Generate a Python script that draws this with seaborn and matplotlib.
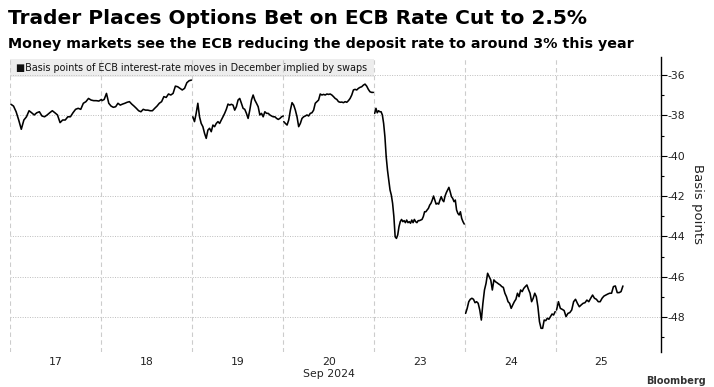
import numpy as np
import pandas as pd
import seaborn as sns
import matplotlib.pyplot as plt
from matplotlib.patches import Rectangle

# trading days shown on the x axis (Sep 2024)
days = ['17', '18', '19', '20', '23', '24', '25']
# fraction of each day covered by the quotes
session_end = [1.0, 0.99, 1.0, 0.99, 0.99, 0.99, 0.735]

# basis points of ECB moves in December implied by swaps
sep17 = [-37.45, -37.54, -37.82, -38.23, -38.69, -38.23, -38.07, -37.77, -37.87, -37.98,
         -37.87, -37.82, -38.03, -38.07, -37.98, -37.87, -37.77, -37.87, -37.98, -38.36,
         -38.23, -38.23, -38.07, -38.07, -37.87, -37.70, -37.65, -37.70, -37.40, -37.32,
         -37.16, -37.24, -37.27, -37.27, -37.29, -37.21]
sep18 = [-37.27, -37.21, -36.91, -37.40, -37.54, -37.60, -37.57, -37.40, -37.49, -37.44,
         -37.40, -37.35, -37.32, -37.44, -37.54, -37.65, -37.77, -37.82, -37.70, -37.74,
         -37.74, -37.77, -37.77, -37.65, -37.54, -37.40, -37.32, -37.07, -37.11, -36.94,
         -36.99, -36.91, -36.55, -36.58, -36.66, -36.74, -36.66, -36.38, -36.28, -36.25]
sep19 = [-38.07, -38.31, -37.90, -37.40, -38.07, -38.40, -38.56, -38.89, -39.14, -38.73,
         -38.64, -38.81, -38.48, -38.56, -38.40, -38.31, -38.40, -38.23, -38.07, -37.90,
         -37.70, -37.44, -37.49, -37.45, -37.49, -37.74, -37.57, -37.24, -37.16, -37.40,
         -37.65, -37.70, -37.90, -38.15, -37.74, -37.24, -36.99, -37.24, -37.40, -37.57,
         -37.98, -37.90, -38.07, -37.82, -37.90, -37.90, -37.98, -38.03, -38.07, -38.07,
         -38.15, -38.20, -38.15, -38.07, -38.03]
sep20 = [-38.31, -38.40, -38.48, -38.23, -37.74, -37.37, -37.49, -37.74, -38.07, -38.56,
         -38.40, -38.15, -38.07, -38.03, -37.98, -38.03, -37.90, -37.87, -37.74, -37.40,
         -37.32, -37.24, -36.94, -36.99, -36.96, -36.99, -36.94, -36.96, -36.94, -36.99,
         -37.07, -37.16, -37.21, -37.32, -37.35, -37.34, -37.37, -37.32, -37.35, -37.27,
         -37.16, -36.99, -36.74, -36.71, -36.74, -36.66, -36.61, -36.58, -36.50, -36.45,
         -36.55, -36.71, -36.83, -36.86, -36.86]
sep23 = [-37.90, -37.65, -37.87, -37.77, -37.82, -37.82, -37.98, -38.40, -39.06, -40.05,
         -40.71, -41.21, -41.70, -41.95, -42.36, -43.02, -44.02, -44.10, -43.93, -43.52,
         -43.27, -43.16, -43.27, -43.22, -43.32, -43.19, -43.32, -43.27, -43.35, -43.19,
         -43.32, -43.16, -43.27, -43.32, -43.22, -43.22, -43.19, -43.16, -43.02, -42.78,
         -42.78, -42.69, -42.61, -42.45, -42.36, -42.20, -42.00, -42.20, -42.40, -42.36,
         -42.40, -42.20, -42.03, -42.20, -42.28, -42.00, -41.83, -41.70, -41.57, -41.79,
         -42.03, -42.12, -42.28, -42.20, -42.69, -42.86, -42.94, -42.78, -43.11, -43.27,
         -43.39]
sep24 = [-47.82, -47.57, -47.24, -47.12, -47.07, -47.12, -47.29, -47.24, -47.32, -47.65,
         -48.15, -47.32, -46.66, -46.33, -45.83, -46.00, -46.16, -46.66, -46.16, -46.25,
         -46.30, -46.36, -46.41, -46.49, -46.53, -46.82, -46.99, -47.24, -47.32, -47.57,
         -47.40, -47.24, -47.12, -46.82, -46.99, -46.66, -46.74, -46.58, -46.49, -46.41,
         -46.63, -46.82, -47.24, -47.07, -46.82, -46.99, -47.49, -48.23, -48.56, -48.56,
         -48.15, -48.18, -48.06, -48.11, -47.98, -47.85, -47.90, -47.73]
sep25 = [-47.65, -47.24, -47.57, -47.62, -47.68, -47.98, -47.82, -47.78, -47.65, -47.24,
         -47.12, -47.32, -47.49, -47.40, -47.32, -47.29, -47.16, -47.24, -47.07, -46.91,
         -47.07, -47.12, -47.24, -47.24, -47.07, -46.96, -46.91, -46.86, -46.82, -46.82,
         -46.49, -46.46, -46.79, -46.79, -46.74, -46.46]
values = [sep17, sep18, sep19, sep20, sep23, sep24, sep25]

rows = []
for i, vals in enumerate(values):
    xs = i + np.linspace(0.005, session_end[i], len(vals))
    for x, v in zip(xs, vals):
        rows.append({'t': x, 'bp': v, 'day': days[i]})
df = pd.DataFrame(rows)

sns.set_style('white')
plt.rcParams['font.family'] = ['DejaVu Sans']
plt.rcParams['axes.unicode_minus'] = False

fig = plt.figure(figsize=(7.14, 3.87), dpi=100)
ax = fig.add_axes([0.0147, 0.0912, 0.9106, 0.7623])

sns.lineplot(data=df, x='t', y='bp', units='day', estimator=None,
             color='black', linewidth=1.15, ax=ax, legend=False, zorder=3)

ax.set_xlim(0, 7.15)
ax.set_ylim(-49.72, -35.09)

# grid: dotted horizontals, dashed day separators
for y in range(-48, -35, 2):
    ax.axhline(y, color='#bdbdbd', lw=0.7, ls=(0, (1, 1.5)), zorder=1)
for d in range(7):
    ax.axvline(d, color='#cccccc', lw=0.8, ls=(0, (4, 3)), zorder=1)

for s in ['left', 'top', 'bottom']:
    ax.spines[s].set_visible(False)
ax.spines['right'].set_color('black')
ax.spines['right'].set_linewidth(1.0)

ax.yaxis.tick_right()
ax.set_yticks(range(-48, -35, 2))
ax.set_yticks(np.arange(-49, -36, 2), minor=True)
ax.tick_params(axis='y', which='major', length=4, width=0.8, color='black',
               labelsize=7.8, pad=1, labelcolor='#222222')
ax.tick_params(axis='y', which='minor', length=2.5, width=0.8, color='black')

xlabels = list(days)
xlabels[3] = '20\nSep 2024'
ax.set_xticks(np.arange(7) + 0.5)
ax.set_xticklabels(xlabels)
ax.tick_params(axis='x', length=0, labelsize=7.8, pad=4, labelcolor='#222222')
ax.set_xlabel('')
ax.set_ylabel('')
ax.text(1.056, 0.5, 'Basis points', transform=ax.transAxes, rotation=-90,
        ha='center', va='center', fontsize=9.5, color='#222222')

# legend strip
ax.add_patch(Rectangle((0, 0.931), 0.559, 0.061, transform=ax.transAxes,
                       facecolor='#ededed', edgecolor='none', zorder=0.5))
ax.text(0.008, 0.962, '\u25a0Basis points of ECB interest-rate moves in December implied by swaps',
        transform=ax.transAxes, va='center', ha='left', fontsize=6.9, color='#111111', zorder=4)

fig.text(8 / 714, 1 - 18 / 387, 'Trader Places Options Bet on ECB Rate Cut to 2.5%',
         fontsize=14.5, weight='bold', va='center', ha='left', color='black')
fig.text(8 / 714, 1 - 44 / 387,
         'Money markets see the ECB reducing the deposit rate to around 3% this year',
         fontsize=10.3, weight='bold', va='center', ha='left', color='black')
fig.text(706 / 714, 1 / 387, 'Bloomberg', fontsize=7, weight='bold', va='bottom', ha='right',
         color='#333333')

fig.savefig('out.png', dpi=100)
